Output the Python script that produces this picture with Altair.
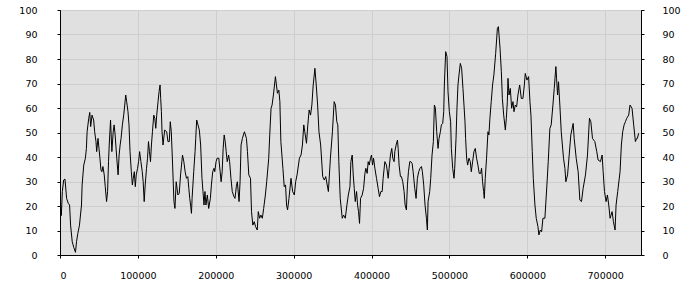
import altair as alt
import pandas as pd

x_vals = [
    800, 1700, 3000, 4700, 6400, 8500, 10600, 12300, 13600, 15700, 17800, 19900,
    21200, 22900, 25000, 27600, 28400, 30500, 32600, 33900, 34800, 36900, 38200,
    39400, 41100, 43200, 44500, 46200, 47100, 48800, 49600, 51300, 52600, 53800,
    55100, 56800, 58100, 59800, 61100, 62300, 63200, 64900, 66600, 68300, 69500,
    70800, 72900, 74600, 75900, 77200, 78400, 80100, 81800, 83100, 84400, 85600,
    87300, 88600, 89900, 91600, 92900, 94100, 95400, 96700, 97900, 99600, 100900,
    102200, 103900, 105600, 106800, 108100, 109400, 111100, 112400, 113600, 114900,
    116200, 117400, 118700, 120400, 121700, 123000, 124200, 125900, 127200, 128500,
    129300, 130200, 131000, 132300, 134400, 137000, 138600, 140300, 141600, 142900,
    144600, 146300, 147600, 149200, 151400, 153100, 154800, 157300, 159000, 160700,
    162400, 164100, 165400, 166600, 167900, 168800, 169600, 171700, 173400, 174300,
    175500, 177200, 178900, 180600, 182300, 183600, 184900,
    186100, 187400, 189200, 190900, 193100, 194400, 196100, 197800, 198700, 200400,
    201700, 203900, 205600, 206900, 208200, 209500, 210800, 212100, 213400, 214700,
    216500, 217800, 219500, 221200, 223400, 224700, 226400, 227700, 229900, 231200,
    232500, 234200, 235500, 236800, 239400, 240700, 242400, 244600, 245900, 247600,
    249400, 251100, 253300, 254600, 256300, 258000, 259800, 261500, 263700, 265400,
    268000, 269300, 271000, 272300, 274000, 276600, 277900, 279200, 281000, 282300,
    283600, 286200, 287900, 289600, 290900, 292200, 294000, 296600, 298700, 300900,
    302600, 304400, 307400, 309500, 311300, 313000, 314300, 316500, 318200, 319900,
    321700, 323400, 325100, 327300, 329000, 330800, 332500, 334700, 337300, 339400,
    341200, 344600, 347200, 349800, 352000, 353700, 355400, 356700, 358000, 359800,
    362400, 364100, 366300, 368400, 370200, 372300,
    373500, 375200, 376500, 377800, 379100, 380800, 382100, 383300, 384600, 385900,
    388000, 389800, 391500, 392700, 394400, 395700, 397000, 398700, 400000, 401300,
    402600, 404300, 406400, 408500, 410200, 412000, 413700, 414900, 417100, 419200,
    421400, 422600, 424300, 426000, 427300, 429000, 429900, 431600, 433300, 434200,
    435400, 437100, 438400, 440100, 441800, 443100, 444800, 446100, 447400, 449100,
    450400, 452100, 453400, 455500, 457200, 458900, 460600, 462300, 464100, 465300,
    467000, 468700, 470500, 471700, 472600, 474700, 476000, 477700, 479400, 480700,
    482000, 483700, 485400, 486700, 488400, 489700, 491400, 492700, 493500, 495200,
    496900, 498200, 499900, 501600, 502500, 504200, 505900, 506800, 508500, 509700,
    511000, 512300, 514000, 515700, 517400, 518700, 520000, 520800, 522100, 523400,
    525100, 526800, 528100, 529800, 531500, 533200, 534900, 536600, 538300, 540100,
    541300, 542600, 543900, 544800, 546000, 547700, 549500, 550700, 552000, 553700,
    555400, 557100,
    559400, 561600, 562900, 565000, 566700, 568000, 569700, 571800, 573100, 574400,
    575200, 576500, 578200, 579900, 581600, 582900, 584600, 586300, 588000, 590200,
    592300, 594400, 596200, 597400, 599600, 601700, 603400, 604700, 606400, 607700,
    609800, 611500, 613700, 614900, 616700, 618400, 620100, 622600, 625200, 626900,
    629000, 630700, 632900, 634600, 636700, 637600, 638900, 640100, 641800, 643600,
    646500, 648300, 649500, 651700, 653800, 655900, 658900, 660200, 662800, 665300,
    667500, 669600, 671700, 674700, 677300, 679800, 681600, 683700, 686700, 689200,
    690900, 693900, 696100, 697400, 699100, 701200, 702900, 704600, 706300, 708900,
    710600, 712700, 714000, 716100, 719100, 720800, 722500, 724300, 726000, 727700,
    730200, 731900, 734500, 736600, 738800, 740500, 741300, 743000,
]

y_vals = [
    20.4, 16.1, 25.9, 30.6, 31.0, 23.1, 21.1, 20.4, 12.2, 5.4, 3.0, 1.1,
    5.4, 8.8, 12.2, 20.4, 28.6, 36.7, 39.5, 43.5, 50.3, 55.8, 58.2,
    52.4, 57.1, 55.1, 50.3, 46.3, 42.2, 47.6, 44.9, 39.5, 34.7, 34.0,
    36.1, 32.7, 27.9, 21.8, 25.9, 38.1, 44.9, 55.1, 42.2, 50.3, 53.1,
    49.0, 39.5, 32.7, 40.8, 44.9, 47.6, 53.1, 57.1, 61.2, 65.3, 62.6,
    58.5, 53.1, 42.2, 34.0, 28.6, 31.3, 34.0, 27.9, 32.7, 35.4, 38.1,
    42.2, 38.1, 34.0, 29.9, 21.8, 28.6, 35.4, 39.5, 46.3, 42.2,
    38.1, 44.9, 50.3, 57.1, 55.8, 51.7, 57.1, 62.6, 66.7, 69.4,
    63.9, 58.5, 50.3, 44.9, 51.0, 50.3, 46.3, 46.3, 54.4, 50.3,
    36.7, 21.8, 19.0, 29.9, 24.5, 25.2, 32.7, 40.8, 38.1, 34.0,
    31.3, 32.0, 27.2, 23.1, 19.7, 17.0, 23.1, 34.0, 42.2, 47.6,
    55.1, 53.1, 51.0, 44.9, 31.3, 25.9, 20.4,
    25.9, 20.4, 24.5, 19.0, 23.1, 28.6, 34.0, 35.4, 34.0, 38.1,
    39.5, 39.5, 34.0, 29.9, 34.0, 43.5, 49.0, 46.3, 42.2, 38.1,
    40.8, 38.1, 31.3, 25.9, 23.8, 23.1, 27.9, 29.9, 21.8, 29.9,
    44.9, 47.6, 49.0, 50.3, 47.6, 42.2, 32.7, 31.3, 17.7, 12.2,
    13.6, 11.6, 10.2, 17.7, 15.0, 16.3, 15.0, 19.0, 24.5, 29.9,
    39.5, 49.0, 59.9, 61.2, 65.3, 72.8, 69.4, 66.0, 67.3, 62.6,
    46.3, 35.4, 27.9, 28.6, 20.4, 18.4, 23.1, 31.3, 25.9, 24.5,
    29.9, 32.7, 39.5, 40.8, 44.9, 53.1, 50.3, 45.6, 53.1, 59.2,
    57.1, 61.2, 69.4, 76.2, 69.4, 61.2, 50.3, 44.9, 32.0, 30.6,
    32.0, 25.9, 39.5, 50.3, 62.6, 61.2, 54.4, 53.1, 38.1, 23.1,
    15.0, 16.3, 15.0, 20.4, 24.5, 27.9,
    38.1, 40.8, 32.7, 27.2, 21.8, 25.9, 20.4, 17.7, 12.9, 23.1,
    24.5, 27.2, 33.3, 35.4, 33.3, 38.1, 36.7, 39.5, 40.8, 36.7,
    39.5, 35.4, 31.3, 27.2, 23.8, 25.9, 25.9, 31.3, 38.1, 36.7,
    31.3, 35.4, 40.8, 43.5, 39.5, 38.1, 42.2, 44.9, 46.9, 43.5,
    36.7, 32.0, 32.0, 29.9, 25.9, 20.4, 18.4, 28.6, 34.0, 38.1,
    38.1, 37.4, 34.0, 27.2, 23.1, 31.3, 34.0, 35.4, 36.1, 34.0,
    28.6, 20.4, 15.0, 10.2, 21.8, 25.9, 31.3, 40.8, 46.3, 61.2,
    59.9, 50.3, 43.5, 47.6, 50.3, 53.1, 53.7, 58.5, 69.4, 83.0,
    81.0, 66.7, 58.5, 54.4, 43.5, 35.4, 31.3, 35.4, 47.6, 59.9,
    69.4, 73.5, 78.2, 76.2, 68.0, 61.2, 54.4, 47.6, 39.5, 36.7,
    39.5, 38.1, 34.0, 38.1, 42.2, 43.5, 39.5, 36.7, 33.3, 33.3,
    35.4, 29.9, 25.9, 23.1, 31.3, 39.5, 50.3, 49.0, 55.8, 62.6,
    69.4, 73.5,
    82.3, 92.5, 93.2, 84.4, 74.8, 63.9, 57.1, 51.0, 55.8, 62.6,
    72.1, 65.3, 68.0, 59.9, 62.6, 58.5, 61.2, 60.5, 65.3, 69.4,
    63.9, 63.9, 69.4, 74.1, 71.4, 72.8, 62.6, 57.1, 42.2, 31.3,
    20.4, 15.0, 11.6, 8.2, 10.2, 9.5, 15.0, 15.0, 28.6, 38.1,
    51.7, 53.1, 61.2, 68.0, 76.9, 72.1, 65.3, 70.7, 61.2, 50.3,
    39.5, 35.4, 29.9, 32.7, 40.8, 49.0, 53.7, 47.6, 39.5, 34.0,
    22.4, 21.8, 27.2, 32.7, 40.8, 55.8, 54.4, 47.6, 46.3, 42.2,
    38.8, 38.1, 40.8, 34.0, 25.9, 21.8, 24.5, 20.4, 15.0, 17.7,
    13.6, 10.2, 20.4, 25.9, 34.0, 44.9, 50.3, 53.1, 54.4, 55.8,
    57.1, 61.2, 59.9, 53.1, 46.3, 47.6, 47.6, 49.7,
]

x_ticks = [0, 100000, 200000, 300000, 400000, 500000, 600000, 700000]
y_ticks = [0, 10, 20, 30, 40, 50, 60, 70, 80, 90, 100]

df = pd.DataFrame({"x": x_vals, "y": y_vals})

FONT = "DejaVu Sans"

xenc = alt.X(
    "x:Q",
    scale=alt.Scale(domain=[0, 746000], nice=False, zero=False),
    axis=alt.Axis(values=x_ticks, format="d", title=None, grid=True,
                  gridColor="#cecece", labelPadding=12, tickSize=3,
                  domainColor="black", tickColor="black", labelColor="black",
                  labelFont=FONT, labelFontSize=9.5),
)

def yenc(orient, grid, pad):
    return alt.Y(
        "y:Q",
        scale=alt.Scale(domain=[0, 100], nice=False),
        axis=alt.Axis(orient=orient, values=y_ticks, title=None, grid=grid,
                      gridColor="#cecece", labelPadding=pad, tickSize=3,
                      domainColor="black", tickColor="black",
                      labelColor="black", labelFont=FONT, labelFontSize=9.5),
    )

left = alt.Chart(df).mark_line(color="black", strokeWidth=1).encode(
    x=xenc, y=yenc("left", True, 20)
)
right = alt.Chart(df).mark_line(color="black", strokeWidth=1, opacity=0).encode(
    x=xenc, y=yenc("right", False, 18)
)

chart = (
    alt.layer(left, right)
    .resolve_axis(y="independent")
    .properties(
        width=581,
        height=245,
        autosize=alt.AutoSizeParams(type="none"),
        padding={"left": 60, "top": 10, "right": 59, "bottom": 45},
        background="white",
    )
    .configure_view(fill="#e0e0e0", stroke="black", strokeWidth=1)
)

chart.save("out.html", embed_options={"renderer": "svg", "actions": False})
